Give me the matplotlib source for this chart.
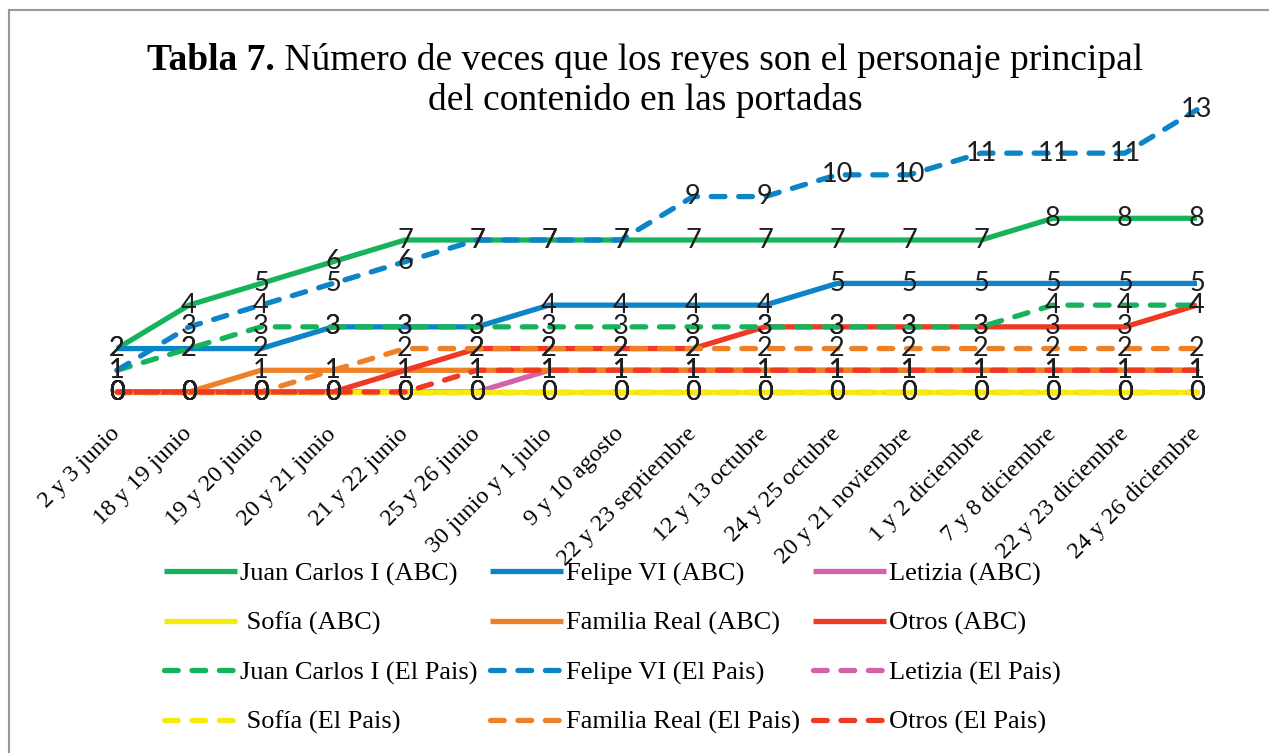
import matplotlib
matplotlib.use("Agg")
import matplotlib.pyplot as plt
from matplotlib.lines import Line2D

fechas = ["2 y 3 junio", "18 y 19 junio", "19 y 20 junio", "20 y 21 junio",
          "21 y 22 junio", "25 y 26 junio", "30 junio y 1 julio", "9 y 10 agosto",
          "22 y 23 septiembre", "12 y 13 octubre", "24 y 25 octubre",
          "20 y 21 noviembre", "1 y 2 diciembre", "7 y 8 diciembre",
          "22 y 23 diciembre", "24 y 26 diciembre"]

juan_carlos_abc = [2, 4, 5, 6, 7, 7, 7, 7, 7, 7, 7, 7, 7, 8, 8, 8]
felipe_abc = [2, 2, 2, 3, 3, 3, 4, 4, 4, 4, 5, 5, 5, 5, 5, 5]
letizia_abc = [0, 0, 0, 0, 0, 0, 1, 1, 1, 1, 1, 1, 1, 1, 1, 1]
sofia_abc = [0] * 16
familia_abc = [0, 0, 1, 1, 1, 1, 1, 1, 1, 1, 1, 1, 1, 1, 1, 1]
otros_abc = [0, 0, 0, 0, 1, 2, 2, 2, 2, 3, 3, 3, 3, 3, 3, 4]
juan_carlos_pais = [1, 2, 3, 3, 3, 3, 3, 3, 3, 3, 3, 3, 3, 4, 4, 4]
felipe_pais = [1, 3, 4, 5, 6, 7, 7, 7, 9, 9, 10, 10, 11, 11, 11, 13]
letizia_pais = [0] * 16
sofia_pais = [0] * 16
familia_pais = [0, 0, 0, 1, 2, 2, 2, 2, 2, 2, 2, 2, 2, 2, 2, 2]
otros_pais = [0, 0, 0, 0, 0, 1, 1, 1, 1, 1, 1, 1, 1, 1, 1, 1]

series = [
    ("Juan Carlos I (ABC)", juan_carlos_abc, "#17b35c", "-"),
    ("Felipe VI (ABC)", felipe_abc, "#0b84c8", "-"),
    ("Letizia (ABC)", letizia_abc, "#d462a8", "-"),
    (" Sofía (ABC)", sofia_abc, "#f7ea10", "-"),
    ("Familia Real (ABC)", familia_abc, "#ee8128", "-"),
    ("Otros (ABC)", otros_abc, "#ee3a24", "-"),
    ("Juan Carlos I (El Pais)", juan_carlos_pais, "#17b35c", "--"),
    ("Felipe VI (El Pais)", felipe_pais, "#0b84c8", "--"),
    ("Letizia (El Pais)", letizia_pais, "#d462a8", "--"),
    (" Sofía (El Pais)", sofia_pais, "#f7ea10", "--"),
    ("Familia Real (El Pais)", familia_pais, "#ee8128", "--"),
    ("Otros (El Pais)", otros_pais, "#ee3a24", "--"),
]

serif = "Liberation Serif"

fig = plt.figure(figsize=(12.69, 7.53), dpi=100)
W, H = 1269, 753

# plot area in pixel terms
x0_px, x1_px = 81, 1233
y0_px, y1_px = 392, 88
ax = fig.add_axes([x0_px / W, 1 - y0_px / H, (x1_px - x0_px) / W, (y0_px - y1_px) / H])

x = list(range(len(fechas)))
handles = []
for name, vals, color, ls in series:
    if ls == "--":
        line, = ax.plot(x, vals, color=color, lw=3.8, clip_on=False,
                        dashes=(2.6, 2.6), dash_capstyle="round")
    else:
        line, = ax.plot(x, vals, color=color, lw=3.8, clip_on=False,
                        solid_capstyle="butt")
    handles.append(line)
    for xi, v in zip(x, vals):
        ax.text(xi, v, str(v), ha="center", va="center", fontsize=19.5,
                family="Lato", color="#1e1e1e", zorder=5)

ax.set_xlim(-0.5, 15.5)
ax.set_ylim(0, 14)
ax.set_yticks([])
for s in ax.spines.values():
    s.set_visible(False)
ax.set_xticks(x)
ax.set_xticklabels(fechas, rotation=45, ha="right", va="center",
                   rotation_mode="anchor", family=serif, fontsize=17.5)
ax.tick_params(axis="x", length=0, pad=28)

# legend, filled row by row
order = [i for col in range(3) for i in range(col, 12, 3)]
leg = fig.legend([handles[i] for i in order], [series[i][0] for i in order],
                 ncol=3, loc="upper left", bbox_to_anchor=(164 / W, 1 - 562 / H),
                 frameon=False, prop={"family": serif, "size": 19},
                 handlelength=2.75, handletextpad=0.12, columnspacing=0.5,
                 labelspacing=0.97, borderpad=0, borderaxespad=0)

# title with bold prefix
fig.canvas.draw()
r = fig.canvas.get_renderer()
t1 = fig.text(0, 1 - 60 / H, "Tabla 7.", family=serif, fontsize=27,
              fontweight="bold", va="center", ha="left")
t2 = fig.text(0, 1 - 60 / H, " Número de veces que los reyes son el personaje principal",
              family=serif, fontsize=27, va="center", ha="left")
w1 = t1.get_window_extent(r).width
w2 = t2.get_window_extent(r).width
start = 645 - (w1 + w2) / 2
t1.set_x(start / W)
t2.set_x((start + w1) / W)
fig.text(645 / W, 1 - 101 / H, "del contenido en las portadas", family=serif,
         fontsize=27, va="center", ha="center")

# frame lines (top and left)
fig.add_artist(Line2D([9 / W, 1], [1 - 10 / H, 1 - 10 / H], color="#999999", lw=1.5))
fig.add_artist(Line2D([9 / W, 9 / W], [0, 1 - 10 / H], color="#999999", lw=1.5))

fig.savefig("out.png", dpi=100)
